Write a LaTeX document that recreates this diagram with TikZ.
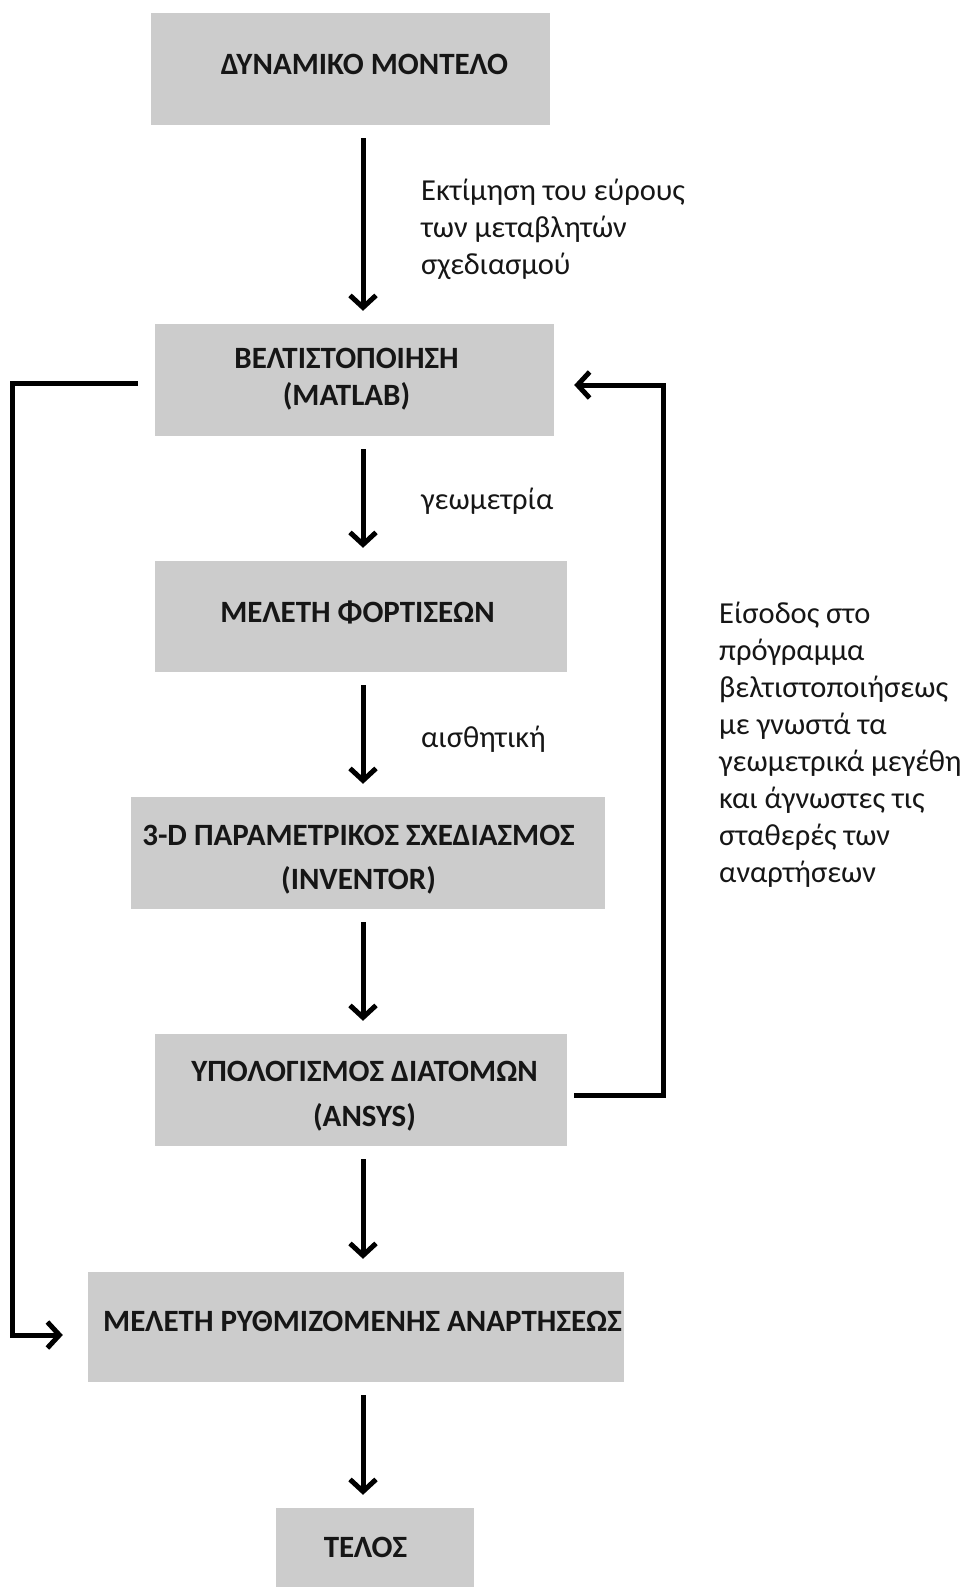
\documentclass[tikz,border=0pt]{standalone}
\usepackage{fontspec}
\setmainfont{Carlito}
\usetikzlibrary{arrows.meta,positioning}
\definecolor{boxgray}{RGB}{204,204,204}
\definecolor{inkgray}{RGB}{22,22,22}

\begin{document}
\begin{tikzpicture}[
x=1pt,y=-1pt,
MyBox/.style={fill=boxgray,draw=none,inner sep=0pt},
BoxText/.style={align=center,inner sep=0pt,text=inkgray,font=\bfseries\fontsize{31}{39}\selectfont},
MyLabel/.style={anchor=west,align=left,inner sep=0pt,text=inkgray,font=\fontsize{30.5}{37}\selectfont},
Flow/.style={line width=5pt,-{Straight Barb[length=12pt,width=26pt]},shorten <=13pt,shorten >=13pt},
Loop/.style={line width=5pt,-{Straight Barb[length=12pt,width=26pt]}}
]
\useasboundingbox (0,0) rectangle (966,1587);

% boxes
\node[MyBox,minimum width=399,minimum height=112,
  label={[BoxText,xshift=14pt,yshift=5pt]center:ΔΥΝΑΜΙΚΟ ΜΟΝΤΕΛΟ}] (model) at (350.5,69) {};
\node[MyBox,minimum width=399,minimum height=112,
  label={[BoxText,xshift=-8pt,yshift=1pt]center:ΒΕΛΤΙΣΤΟΠΟΙΗΣΗ\\[-1.5pt](MATLAB)}] (opt) at (354.5,380) {};
\node[MyBox,minimum width=412,minimum height=111,
  label={[BoxText,xshift=-3.5pt,yshift=4pt]center:ΜΕΛΕΤΗ ΦΟΡΤΙΣΕΩΝ}] (loads) at (361,616.5) {};
\node[MyBox,minimum width=474,minimum height=112,
  label={[BoxText,xshift=-9.5pt,yshift=-6.5pt]center:3-D ΠΑΡΑΜΕΤΡΙΚΟΣ ΣΧΕΔΙΑΣΜΟΣ\\[5.5pt](INVENTOR)}] (param) at (368,853) {};
\node[MyBox,minimum width=412,minimum height=112,
  label={[BoxText,xshift=3.5pt,yshift=-6pt]center:ΥΠΟΛΟΓΙΣΜΟΣ ΔΙΑΤΟΜΩΝ\\[6pt](ANSYS)}] (sect) at (361,1090) {};
\node[MyBox,minimum width=536,minimum height=110,
  label={[BoxText,xshift=6.5pt,yshift=5.5pt]center:ΜΕΛΕΤΗ ΡΥΘΜΙΖΟΜΕΝΗΣ ΑΝΑΡΤΗΣΕΩΣ}] (susp) at (356,1327) {};
\node[MyBox,minimum width=198,minimum height=79,
  label={[BoxText,xshift=-9.5pt]center:ΤΕΛΟΣ}] (fin) at (375,1547.5) {};

\coordinate (spine) at (363,0);

% main flow
\draw[Flow] (model.south -| spine) -- (opt.north -| spine);
\draw[Flow] (opt.south -| spine) -- (loads.north -| spine);
\draw[Flow] (loads.south -| spine) -- (param.north -| spine);
\draw[Flow] (param.south -| spine) -- (sect.north -| spine);
\draw[Flow] (sect.south -| spine) -- (susp.north -| spine);
\draw[Flow] (susp.south -| spine) -- (fin.north -| spine);

% loops
\draw[Loop] ([xshift=-17pt,yshift=-3pt]opt.west) -- ++(-125,0) |- ([xshift=-25pt,yshift=-8pt]susp.west);
\draw[Loop] ([xshift=7pt,yshift=-5pt]sect.east) -- ++(89,0) |- ([xshift=20pt,yshift=-5pt]opt.east);

% labels
\node[MyLabel] (estim) at (421,229) {Εκτίμηση του εύρους\\των μεταβλητών\\σχεδιασμού};
\node[MyLabel] (geom) at (421,501) {γεωμετρία};
\node[MyLabel] (aesth) at (421,739) {αισθητική};
\node[MyLabel] (input) at (719,744.5) {Είσοδος στο\\πρόγραμμα\\βελτιστοποιήσεως\\με γνωστά τα\\γεωμετρικά μεγέθη\\και άγνωστες τις\\σταθερές των\\αναρτήσεων};

\end{tikzpicture}
\end{document}
